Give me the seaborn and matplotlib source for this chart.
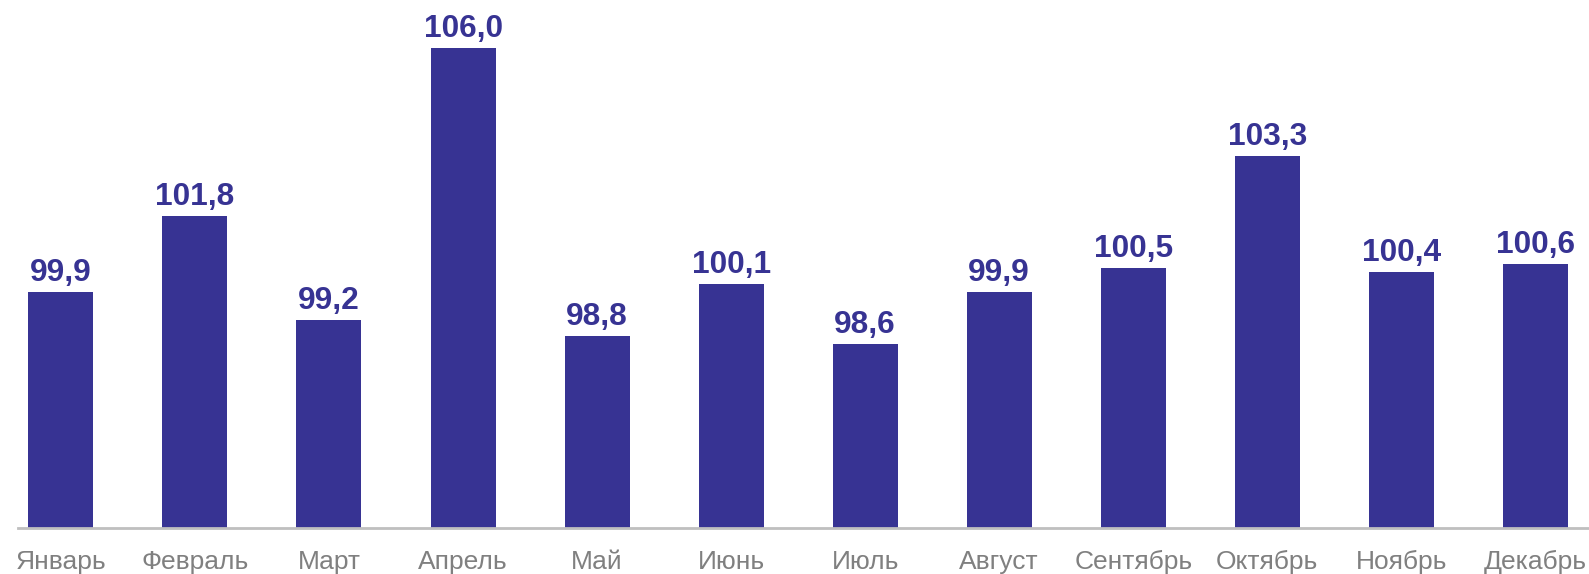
import matplotlib
matplotlib.use("Agg")
import matplotlib.pyplot as plt
import seaborn as sns
import pandas as pd

months = ["Январь", "Февраль", "Март", "Апрель", "Май", "Июнь",
          "Июль", "Август", "Сентябрь", "Октябрь", "Ноябрь", "Декабрь"]
values = [99.9, 101.8, 99.2, 106.0, 98.8, 100.1, 98.6, 99.9, 100.5, 103.3, 100.4, 100.6]
labels = ["99,9", "101,8", "99,2", "106,0", "98,8", "100,1",
          "98,6", "99,9", "100,5", "103,3", "100,4", "100,6"]

sns.set_theme(style="white")
plt.rcParams['font.family'] = ['Liberation Sans', 'DejaVu Sans']

bar_color = "#373393"
df = pd.DataFrame({"month": months, "value": values})

fig = plt.figure(figsize=(15.89, 5.74), dpi=100)
ax = fig.add_axes([18 / 1589, 46 / 574, 1 - 18 / 1589, 1 - 46 / 574])

sns.barplot(data=df, x="month", y="value", color=bar_color, saturation=1,
            width=0.485, ax=ax)
for p in ax.patches:
    p.set_edgecolor("none")

ax.set_ylim(94, 107.2)
ax.set_xlim(-0.32, 11.40)

for i, (v, lab) in enumerate(zip(values, labels)):
    ax.annotate(lab, (i, v), xytext=(0, 2.8), textcoords="offset points",
                ha="center", va="bottom", fontsize=22.8, fontweight="bold",
                color=bar_color)

for s in ["top", "right", "left"]:
    ax.spines[s].set_visible(False)
ax.spines["bottom"].set_color("#bfbfbf")
ax.spines["bottom"].set_linewidth(2)
ax.set_yticks([])
ax.set_xlabel("")
ax.set_ylabel("")
ax.tick_params(axis="x", length=0, pad=15.5, labelsize=19, labelcolor="#808080")

fig.savefig("out.png", dpi=100)
